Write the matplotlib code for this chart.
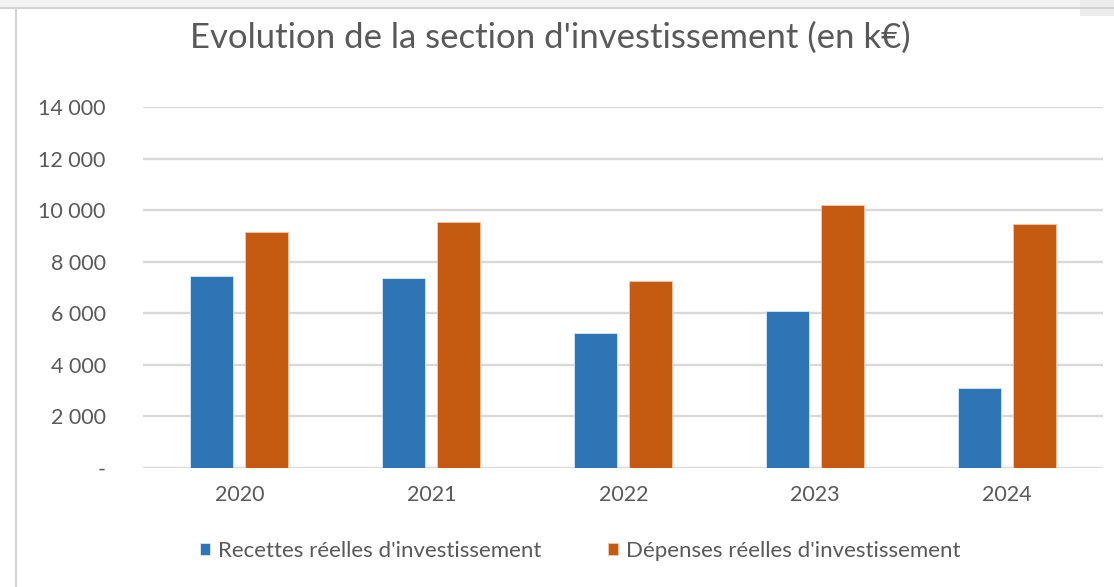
import matplotlib.pyplot as plt
import matplotlib.patches as mpatches
import numpy as np

plt.rcParams['font.family'] = ['Lato', 'DejaVu Sans']

# données (k€)
annees = ['2020', '2021', '2022', '2023', '2024']
recettes = [7440, 7350, 5245, 6100, 3100]
depenses = [9155, 9545, 7245, 10190, 9450]
yticks = [0, 2000, 4000, 6000, 8000, 10000, 12000, 14000]
ytick_labels = ['-', '2 000', '4 000', '6 000', '8 000', '10 000', '12 000', '14 000']

bleu = '#2E75B6'
orange = '#C55A11'
gris_texte = '#595959'

fig = plt.figure(figsize=(11.14, 5.87), dpi=100)
fig.patch.set_facecolor('white')

# cadre du graphique (bord gris en haut et à gauche)
fig.patches.append(mpatches.Rectangle((0, 1 - 7 / 587), 1, 7 / 587, transform=fig.transFigure,
                                      facecolor='#f3f3f3', edgecolor='none', zorder=0))
fig.patches.append(mpatches.Rectangle((1080 / 1114, 1 - 16 / 587), 34 / 1114, 16 / 587,
                                      transform=fig.transFigure, facecolor='#ececec',
                                      edgecolor='none', zorder=0))
fig.lines.append(plt.Line2D([0, 1], [1 - 8 / 587, 1 - 8 / 587], transform=fig.transFigure,
                            color='#d4d4d4', lw=1.5))
fig.lines.append(plt.Line2D([16 / 1114, 16 / 1114], [0, 1 - 8 / 587], transform=fig.transFigure,
                            color='#d4d4d4', lw=1.5))

ax = fig.add_axes([143.3 / 1114, 119 / 587, 960 / 1114, 361 / 587])
x = np.arange(len(annees))
w = 0.2256
off = 0.1432
ax.bar(x - off, recettes, w, color=bleu, edgecolor='#dbe8f5', linewidth=0.6, zorder=3,
       label="Recettes réelles d'investissement")
ax.bar(x + off, depenses, w, color=orange, edgecolor='#f2c9ad', linewidth=0.6, zorder=3,
       label="Dépenses réelles d'investissement")

ax.set_xlim(-0.5, len(annees) - 0.5)
ax.set_ylim(0, 14000)
ax.set_yticks(yticks)
ax.set_yticklabels(ytick_labels)
ax.set_xticks(x)
ax.set_xticklabels(annees)
ax.grid(axis='y', color='#d9d9d9', lw=1.7, zorder=0)
ax.set_axisbelow(True)
for s in ax.spines.values():
    s.set_visible(False)
ax.tick_params(axis='y', length=0, pad=27, labelsize=15.5, labelcolor=gris_texte)
ax.tick_params(axis='x', length=0, pad=12, labelsize=15.5, labelcolor=gris_texte)

fig.text(550 / 1114, 1 - 38 / 587, "Evolution de la section d'investissement (en k€)",
         ha='center', va='center', fontsize=25, color=gris_texte)

fig.legend(loc='center', bbox_to_anchor=(580 / 1114, 1 - 551 / 587), ncol=2, frameon=False,
           fontsize=16, labelcolor=gris_texte, handlelength=0.45, handleheight=0.5,
           handletextpad=0.35, columnspacing=3.0)

fig.savefig('out.png', dpi=100, facecolor='white')
